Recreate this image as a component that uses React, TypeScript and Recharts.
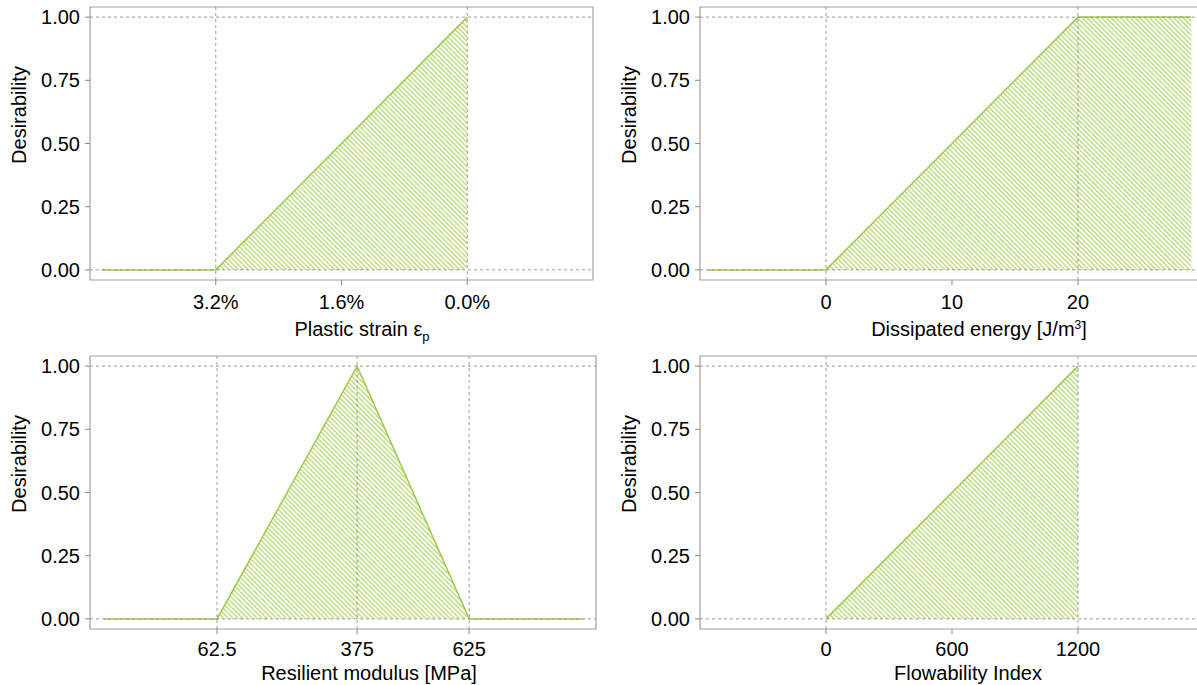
import React from 'react';
import {
  AreaChart,
  Area,
  XAxis,
  YAxis,
  ReferenceLine,
  ReferenceArea,
} from 'recharts';

// desirability functions
const strainX = [4.65, 3.2, 0];
const strainY = [0, 0, 1];
const energyX = [-9.4, 0, 20, 29];
const energyY = [0, 0, 1, 1];
const modulusX = [-190, 62.5, 375, 625, 880];
const modulusY = [0, 0, 1, 0, 0];
const flowX = [0, 1200];
const flowY = [0, 1];

const desirabilityTicks = [0, 0.25, 0.5, 0.75, 1];
const desirabilityLabels = ['0.00', '0.25', '0.50', '0.75', '1.00'];

const strainTicks = [3.2, 1.6, 0];
const strainLabels = ['3.2%', '1.6%', '0.0%'];
const energyTicks = [0, 10, 20];
const energyLabels = ['0', '10', '20'];
const modulusTicks = [62.5, 375, 625];
const modulusLabels = ['62.5', '375', '625'];
const flowTicks = [0, 600, 1200];
const flowLabels = ['0', '600', '1200'];

const strainGrid = [3.2, 0];
const energyGrid = [0, 20];
const modulusGrid = [62.5, 375, 625];
const flowGrid = [0, 1200];

const LINE = '#9dcb45';
const HATCH = '#add563';
const GRID = '#9a9a9a';
const FRAME = '#a0a0a0';
const FONT = 20;

const toRows = (xs: number[], ys: number[]) => xs.map((x, i) => ({ x, y: ys[i] }));

const YTitle = () => (
  <text
    x={26}
    y={115}
    transform="rotate(-90 26 115)"
    textAnchor="middle"
    fontSize={FONT}
    fill="#000"
  >
    Desirability
  </text>
);

// the label element gets cloned with the axis viewBox, so keep own position props apart
const XTitle = ({ posX, posY, kind }: { posX: number; posY: number; kind: string }) => {
  if (kind === 'strain') {
    return (
      <text x={posX} y={posY} textAnchor="middle" fontSize={FONT} fill="#000">
        Plastic strain ε
        <tspan fontSize={13} dy={5}>p</tspan>
      </text>
    );
  }
  if (kind === 'energy') {
    return (
      <text x={posX} y={posY} textAnchor="middle" fontSize={FONT} fill="#000">
        Dissipated energy [J/m
        <tspan fontSize={12} dy={-7}>3</tspan>
        <tspan dy={7}>]</tspan>
      </text>
    );
  }
  return (
    <text x={posX} y={posY} textAnchor="middle" fontSize={FONT} fill="#000">
      {kind}
    </text>
  );
};

interface PanelProps {
  id: string;
  xs: number[];
  ys: number[];
  xDomain: [number, number];
  ticks: number[];
  labels: string[];
  grid: number[];
  reversed?: boolean;
  left: number;
  top: number;
  width: number;
  height: number;
  right: number;
  tickMargin: number;
  title: string;
  titleX: number;
  titleY: number;
}

const Panel: React.FC<PanelProps> = ({
  id, xs, ys, xDomain, ticks, labels, grid, reversed,
  left, top, width, height, right, tickMargin, title, titleX, titleY,
}) => {
  const plotH = 273;
  const data = toRows(xs, ys);
  return (
    <div style={{ position: 'absolute', left, top }}>
      <AreaChart
        width={width}
        height={height}
        data={data}
        margin={{ top: 7, right, left: 0, bottom: 0 }}
      >
        <defs>
          <pattern
            id={id}
            patternUnits="userSpaceOnUse"
            width={3.4}
            height={3.4}
            patternTransform="rotate(45)"
          >
            <line x1={0} y1={1.7} x2={3.4} y2={1.7} stroke={HATCH} strokeWidth={1.2} />
          </pattern>
        </defs>
        <XAxis
          type="number"
          dataKey="x"
          domain={xDomain}
          ticks={ticks}
          reversed={reversed}
          allowDataOverflow
          height={height - 7 - plotH}
          axisLine={false}
          tickLine={{ stroke: '#888' }}
          tickSize={5}
          tickMargin={tickMargin}
          tick={{ fontSize: FONT, fill: '#000' }}
          tickFormatter={(v: number) => labels[ticks.indexOf(v)]}
          interval={0}
          label={<XTitle posX={titleX - left} posY={titleY - top} kind={title} />}
        />
        <YAxis
          type="number"
          domain={[-0.04, 1.04]}
          ticks={desirabilityTicks}
          allowDataOverflow
          width={90}
          axisLine={false}
          tickLine={{ stroke: '#888' }}
          tickSize={5}
          tickMargin={5}
          tick={{ fontSize: FONT, fill: '#000' }}
          tickFormatter={(v: number) => desirabilityLabels[desirabilityTicks.indexOf(v)]}
          interval={0}
          label={<YTitle />}
        />
        <ReferenceLine y={0} stroke={GRID} strokeDasharray="3 3" />
        <ReferenceLine y={1} stroke={GRID} strokeDasharray="3 3" />
        {grid.map((g) => (
          <ReferenceLine key={g} x={g} stroke={GRID} strokeDasharray="3 3" />
        ))}
        <Area
          type="linear"
          dataKey="y"
          baseValue={0}
          stroke={LINE}
          strokeWidth={1.5}
          fill={`url(#${id})`}
          fillOpacity={1}
          dot={false}
          activeDot={false}
          isAnimationActive={false}
        />
        <ReferenceArea
          x1={xDomain[0]}
          x2={xDomain[1]}
          y1={-0.04}
          y2={1.04}
          fill="none"
          stroke={FRAME}
          strokeWidth={1.2}
        />
      </AreaChart>
    </div>
  );
};

export default function App() {
  return (
    <div
      style={{
        position: 'absolute',
        left: 0,
        top: 0,
        width: 1197,
        height: 685,
        overflow: 'hidden',
        background: '#fff',
        fontFamily: '"Liberation Sans", Arial, Helvetica, sans-serif',
      }}
    >
      <Panel
        id="hatch-strain"
        xs={strainX}
        ys={strainY}
        xDomain={[-1.6, 4.8]}
        ticks={strainTicks}
        labels={strainLabels}
        grid={strainGrid}
        reversed
        left={0}
        top={0}
        width={600}
        height={345}
        right={7}
        tickMargin={10}
        title="strain"
        titleX={362}
        titleY={336}
      />
      <Panel
        id="hatch-energy"
        xs={energyX}
        ys={energyY}
        xDomain={[-10, 30.48]}
        ticks={energyTicks}
        labels={energyLabels}
        grid={energyGrid}
        left={610}
        top={0}
        width={600}
        height={345}
        right={0}
        tickMargin={10}
        title="energy"
        titleX={979}
        titleY={336}
      />
      <Panel
        id="hatch-modulus"
        xs={modulusX}
        ys={modulusY}
        xDomain={[-221, 908]}
        ticks={modulusTicks}
        labels={modulusLabels}
        grid={modulusGrid}
        left={0}
        top={349}
        width={600}
        height={336}
        right={4}
        tickMargin={8}
        title="Resilient modulus [MPa]"
        titleX={369}
        titleY={680}
      />
      <Panel
        id="hatch-flow"
        xs={flowX}
        ys={flowY}
        xDomain={[-600, 1828.6]}
        ticks={flowTicks}
        labels={flowLabels}
        grid={flowGrid}
        left={610}
        top={349}
        width={600}
        height={336}
        right={0}
        tickMargin={8}
        title="Flowability Index"
        titleX={968}
        titleY={680}
      />
    </div>
  );
}
